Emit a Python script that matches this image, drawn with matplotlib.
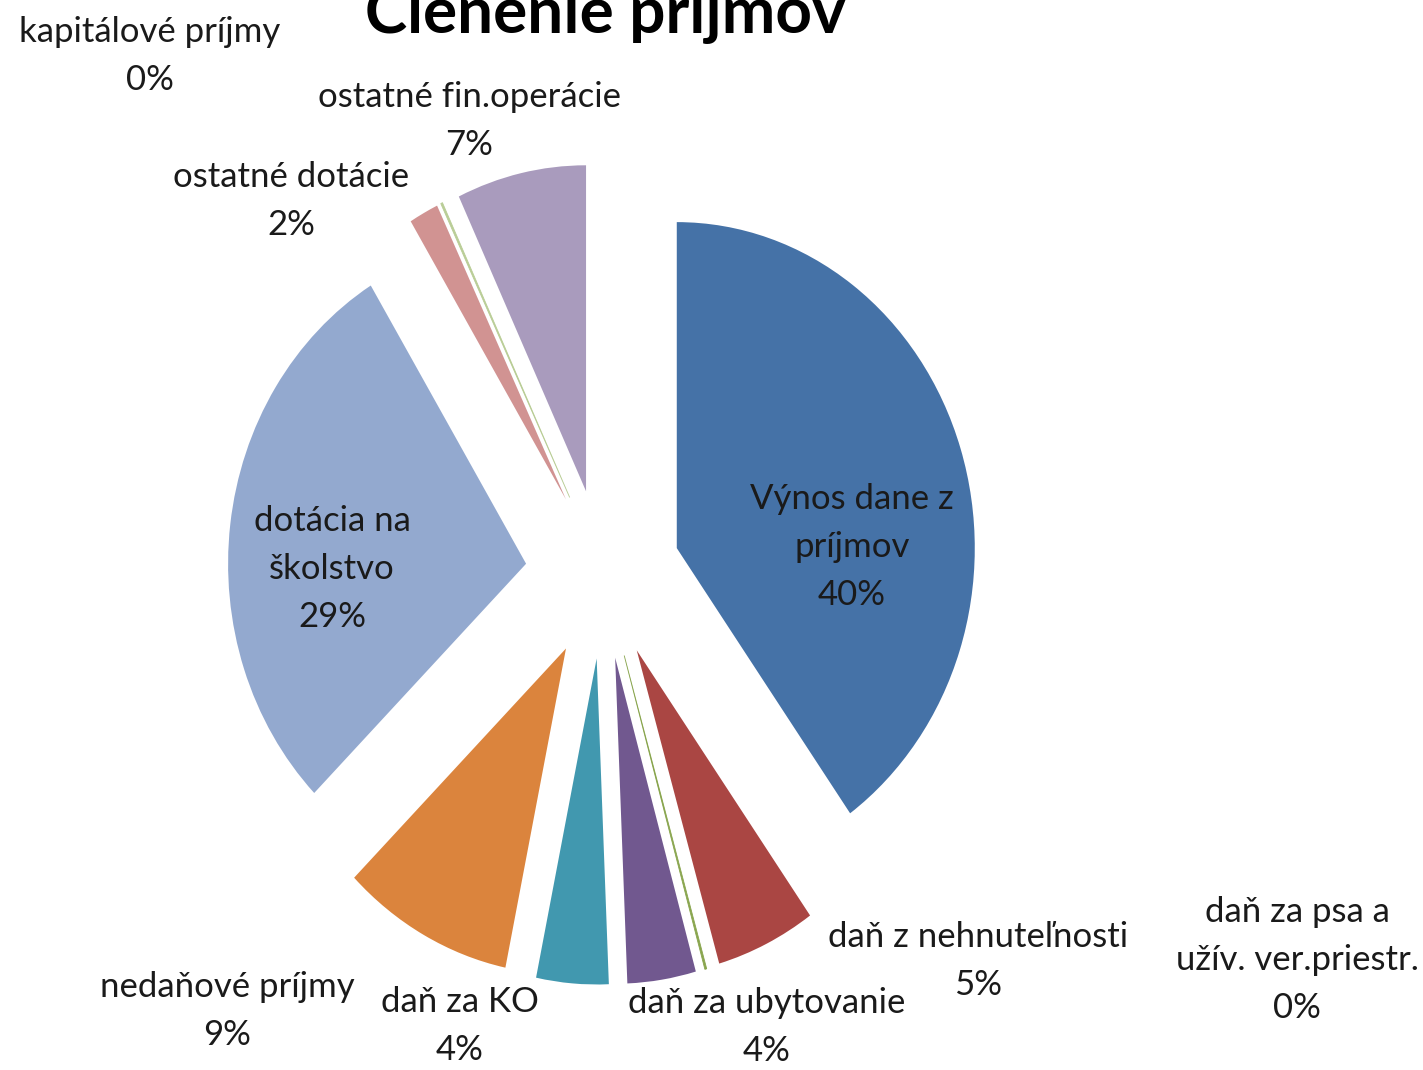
import numpy as np
import matplotlib.pyplot as plt

plt.rcParams['font.family'] = ['Lato', 'DejaVu Sans']

# Data (share of income, %)
categories = ['Výnos dane z\npríjmov', 'daň z nehnuteľnosti', 'daň za psa a\nužív. ver.priestr.',
              'daň za ubytovanie', 'daň za KO', 'nedaňové príjmy', 'dotácia na\nškolstvo',
              'ostatné dotácie', 'kapitálové príjmy', 'ostatné fin.operácie']
values = [40.0, 5.4, 0.1, 3.7, 3.9, 9.3, 28.6, 1.6, 0.1, 7.0]
colors = ['#4572A7', '#AA4643', '#89A54E', '#71588F', '#4198AF',
          '#DB843D', '#93A9CF', '#D19392', '#B9CD96', '#A99BBD']

# label block centres in pixels (x, y from top)
label_px = [(852, 547), (978, 961), (1297, 960), (767, 1027), (460, 1026),
            (227, 1011), (332, 569), (291, 201), (150, 56), (469, 121)]

W, H = 1423, 1070
fig = plt.figure(figsize=(W / 100, H / 100), dpi=100)
ax = fig.add_axes([0, 0, 1, 1])

wedges, _ = ax.pie(values, colors=colors, startangle=90, counterclock=False,
                   explode=[0.26] * len(values), wedgeprops=dict(linewidth=0))
for w, v in zip(wedges, values):
    if v < 0.5:
        w.set_edgecolor(w.get_facecolor())
        w.set_linewidth(0.6)

# pie centre at (603, 574) px, radius 298 px wide and 326 px tall
cx, cy, rx, ry = 603, 574, 298, 326
ax.set_aspect('auto')
ax.set_xlim(-cx / rx, (W - cx) / rx)
ax.set_ylim(-(H - cy) / ry, cy / ry)
ax.axis('off')

total = sum(values)
for name, v, (px, py) in zip(categories, values, label_px):
    pct = round(v / total * 100)
    fig.text(px / W, 1 - py / H, f'{name}\n{pct}%', ha='center', va='center',
             multialignment='center', fontsize=25, linespacing=1.6, color='#1a1a1a')

# title is partly cut off at the top edge, as in the original
fig.text(605 / W, 1 - 33 / H, 'Členenie príjmov', ha='center', va='baseline',
         fontsize=46, fontweight='bold', color='black')

plt.savefig('out.png', dpi=100)
